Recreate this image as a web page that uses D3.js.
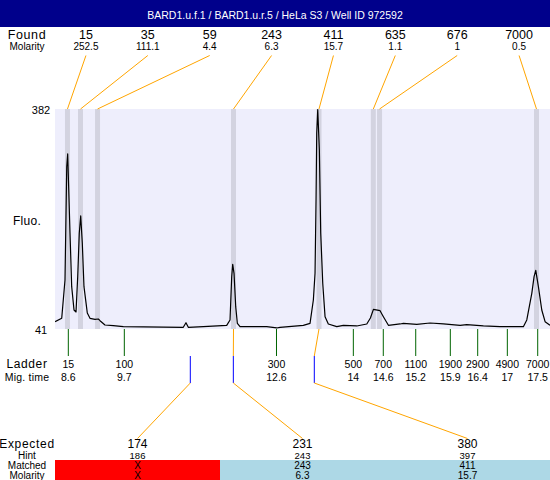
<!DOCTYPE html>
<html><head><meta charset="utf-8">
<script src="https://cdn.jsdelivr.net/npm/d3@7"></script>
<style>
html,body{margin:0;padding:0;background:#fff;}
svg{display:block;font-family:"Liberation Sans",Arial,sans-serif;}
</style></head>
<body>
<svg id="c" width="550" height="480"></svg>
<script>
const title = "BARD1.u.f.1 / BARD1.u.r.5 / HeLa S3 / Well ID 972592";
const foundSize = [15, 35, 59, 243, 411, 635, 676, 7000];
const foundMolarity = [252.5, 111.1, 4.4, 6.3, 15.7, 1.1, 1, 0.5];
const foundTime = [8.585, 8.832, 9.155, 11.733, 13.354, 14.384, 14.502, 17.478];
const ladderSize = [15, 100, 300, 500, 700, 1100, 1900, 2900, 4900, 7000];
const ladderTime = [8.601, 9.663, 12.548, 14.005, 14.573, 15.188, 15.844, 16.363, 16.925, 17.501];
const ladderTimeLabel = ["8.6", "9.7", "12.6", "14", "14.6", "15.2", "15.9", "16.4", "17", "17.5"];
const expectedSize = [174, 231, 380];
const hintSize = [186, 243, 397];
const hintTime = [10.914, 11.730, 13.265];
const matchedSize = ["X", 243, 411];
const matchedMolarity = ["X", 6.3, 15.7];
const matchedFound = [null, 3, 4];
const yTicks = [41, 382];
const traceTime = [8.350, 8.476, 8.538, 8.571, 8.589, 8.633, 8.665, 8.709, 8.747, 8.779, 8.809, 8.836, 8.866, 8.898, 8.961, 9.012, 9.107, 9.170, 9.202, 9.296, 9.454, 9.644, 10.781, 10.832, 10.876, 11.161, 11.604, 11.667, 11.699, 11.718, 11.743, 11.775, 11.806, 11.857, 12.363, 12.553, 12.615, 13.057, 13.184, 13.247, 13.279, 13.298, 13.311, 13.330, 13.361, 13.387, 13.425, 13.469, 13.531, 13.691, 13.816, 14.070, 14.260, 14.329, 14.386, 14.512, 14.575, 14.670, 14.892, 14.954, 15.208, 15.460, 15.713, 16.029, 16.156, 16.471, 16.787, 17.229, 17.294, 17.389, 17.432, 17.464, 17.514, 17.578, 17.641, 17.734];
const traceFluo = [52.3, 57.6, 117, 292.6, 312.3, 189.8, 106.6, 70.5, 67.4, 122.1, 189.8, 216.2, 174.3, 106.6, 65.8, 57.6, 56.0, 56.5, 53.9, 47.2, 46.1, 44.6, 43.6, 50.8, 43.6, 44.6, 46.7, 55, 122.1, 141.3, 127.3, 75.6, 49.8, 44.6, 44.6, 42.6, 43.6, 46.7, 49.8, 86, 127.3, 241, 344.3, 381, 318.5, 189.3, 111.8, 60.1, 48.8, 44.6, 46.7, 45.7, 48.8, 58, 71.5, 69.4, 60.1, 46.7, 48.8, 49.8, 48.3, 50.3, 48.8, 46.7, 47.7, 45.7, 44.6, 44.6, 55, 96.3, 122.1, 132, 106.6, 70.5, 52.3, 46.7];

const svg = d3.select("#c");
const W = 550, H = 480;
const P = {l: 55, r: 550, t: 109, b: 329};
const x = d3.scaleLinear().domain([8.3485, 17.734]).range([P.l, P.r]);
const y = d3.scaleLinear().domain([41, 382]).range([P.b, P.t]);
const foundCol = d3.scaleBand().domain(d3.range(foundSize.length)).range([55, 550]);
const expCol = d3.scaleBand().domain(d3.range(expectedSize.length)).range([55, 550]);
const fc = i => foundCol(i) + foundCol.bandwidth() / 2;
const ec = i => expCol(i) + expCol.bandwidth() / 2;
const ORANGE = "#FFA500", LABX = 27;

// title bar
svg.append("rect").attr("x", 0).attr("y", 0).attr("width", W).attr("height", 27).attr("fill", "#00008B");
svg.append("text").attr("x", W / 2).attr("y", 18.5).attr("text-anchor", "middle").attr("fill", "#fff")
  .attr("font-size", 10.5).text(title);

// found rows
const lab = (txt, yy, fs, ls) => svg.append("text").attr("x", LABX).attr("y", yy).attr("text-anchor", "middle")
  .attr("font-size", fs).attr("letter-spacing", ls || 0).text(txt);
lab("Found", 38.5, 12.5, 0.6);
lab("Molarity", 50, 10);
svg.selectAll(".fs").data(foundSize).enter().append("text").attr("x", (d, i) => fc(i)).attr("y", 38.5)
  .attr("text-anchor", "middle").attr("font-size", 12.5).text(d => d);
svg.selectAll(".fm").data(foundMolarity).enter().append("text").attr("x", (d, i) => fc(i)).attr("y", 50)
  .attr("text-anchor", "middle").attr("font-size", 10).text(d => d);

// plot background + bands
svg.append("rect").attr("x", P.l).attr("y", P.t).attr("width", P.r - P.l).attr("height", P.b - P.t).attr("fill", "#EEEEFC");
svg.selectAll(".band").data(foundTime).enter().append("rect")
  .attr("x", d => x(d) - 2.5).attr("y", P.t).attr("width", 5).attr("height", P.b - P.t).attr("fill", "#D3D3E0");
svg.selectAll(".fl").data(foundTime).enter().append("line")
  .attr("x1", (d, i) => fc(i)).attr("y1", 55.5).attr("x2", d => x(d)).attr("y2", P.t)
  .attr("stroke", ORANGE).attr("stroke-width", 1);

// y labels
svg.selectAll(".yt").data(yTicks).enter().append("text").attr("x", 41).attr("y", d => y(d) + 4.5)
  .attr("text-anchor", "middle").attr("font-size", 11).text(d => d);
lab("Fluo.", 225, 12, 0.3);

// trace
svg.append("defs").append("clipPath").attr("id", "cp").append("rect")
  .attr("x", P.l).attr("y", P.t - 1).attr("width", P.r - P.l).attr("height", P.b - P.t + 1);
const line = d3.line().x((d, i) => x(traceTime[i])).y(d => y(d));
svg.append("path").attr("d", line(traceFluo)).attr("fill", "none").attr("stroke", "#000")
  .attr("stroke-width", 1.2).attr("stroke-linejoin", "round").attr("clip-path", "url(#cp)");

// ladder
svg.selectAll(".lt").data(ladderTime).enter().append("line")
  .attr("x1", d => x(d)).attr("x2", d => x(d)).attr("y1", P.b).attr("y2", 356)
  .attr("stroke", "#006400").attr("stroke-width", 1);
lab("Ladder", 368, 12, 0.6);
lab("Mig. time", 381, 10.5, 0.2);
svg.selectAll(".ls").data(ladderSize).enter().append("text").attr("x", (d, i) => x(ladderTime[i])).attr("y", 367.5)
  .attr("text-anchor", "middle").attr("font-size", 10.5).text(d => d);
svg.selectAll(".lm").data(ladderTimeLabel).enter().append("text").attr("x", (d, i) => x(ladderTime[i])).attr("y", 381)
  .attr("text-anchor", "middle").attr("font-size", 10.5).text(d => d);

// expected
hintTime.forEach((t, i) => {
  const hx = x(t);
  if (matchedFound[i] !== null) {
    svg.append("line").attr("x1", x(foundTime[matchedFound[i]])).attr("y1", P.b).attr("x2", hx).attr("y2", 356)
      .attr("stroke", ORANGE).attr("stroke-width", 1);
  }
  svg.append("line").attr("x1", hx).attr("x2", hx).attr("y1", 356).attr("y2", 383)
    .attr("stroke", "#0000FF").attr("stroke-width", 1);
  svg.append("line").attr("x1", hx).attr("y1", 383).attr("x2", ec(i)).attr("y2", 438.5)
    .attr("stroke", ORANGE).attr("stroke-width", 1);
});
svg.selectAll(".mb").data(matchedFound).enter().append("rect")
  .attr("x", (d, i) => expCol(i)).attr("y", 460).attr("width", expCol.bandwidth()).attr("height", 20)
  .attr("fill", d => d === null ? "#FF0000" : "#ADD8E6");
lab("Expected", 448, 12, 0.7);
lab("Hint", 458.8, 10);
lab("Matched", 469.3, 10);
lab("Molarity", 479, 10);
svg.selectAll(".es").data(expectedSize).enter().append("text").attr("x", (d, i) => ec(i)).attr("y", 447.6)
  .attr("text-anchor", "middle").attr("font-size", 12).text(d => d);
svg.selectAll(".hs").data(hintSize).enter().append("text").attr("x", (d, i) => ec(i)).attr("y", 459)
  .attr("text-anchor", "middle").attr("font-size", 9.5).text(d => d);
svg.selectAll(".ms").data(matchedSize).enter().append("text").attr("x", (d, i) => ec(i)).attr("y", 469.3)
  .attr("text-anchor", "middle").attr("font-size", 10).text(d => d);
svg.selectAll(".mm").data(matchedMolarity).enter().append("text").attr("x", (d, i) => ec(i)).attr("y", 479)
  .attr("text-anchor", "middle").attr("font-size", 10).text(d => d);
</script>
</body></html>
